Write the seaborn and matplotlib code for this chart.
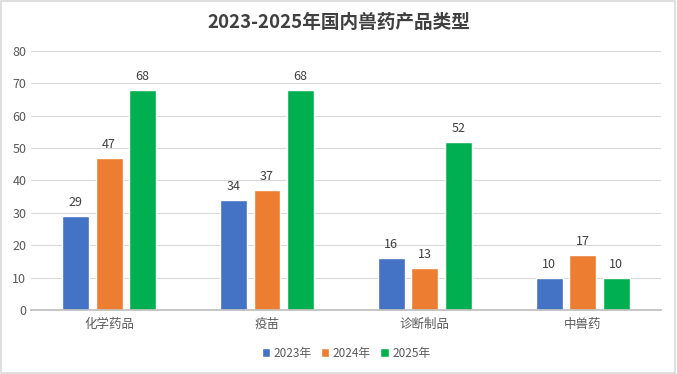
import pandas as pd
import matplotlib.pyplot as plt
import seaborn as sns
from matplotlib.patches import Rectangle

sns.set_theme(style="white")
plt.rcParams['font.family'] = ['Noto Sans CJK SC', 'DejaVu Sans']

categories = ["化学药品", "疫苗", "诊断制品", "中兽药"]
years = ["2023年", "2024年", "2025年"]
v2023 = [29, 34, 16, 10]
v2024 = [47, 37, 13, 17]
v2025 = [68, 68, 52, 10]
COLORS = ["#4472C4", "#ED7D31", "#00B050"]

df = pd.DataFrame({
    "cat": categories * 3,
    "year": [y for y in years for _ in categories],
    "val": v2023 + v2024 + v2025,
})

fig = plt.figure(figsize=(6.77, 3.74), dpi=100)
ax = fig.add_axes([0.046, 0.171, 0.93, 0.693])

sns.barplot(data=df, x="cat", y="val", hue="year", palette=COLORS, ax=ax,
            width=0.636, gap=0.2, saturation=1)

for cont in ax.containers:
    ax.bar_label(cont, padding=5, fontsize=9, color="#404040")

ax.set_ylim(0, 80)
ax.set_yticks(range(0, 81, 10))
ax.set_xlim(-0.494, 3.494)
ax.yaxis.grid(True, color="#D9D9D9", linewidth=0.8)
ax.set_axisbelow(True)
for s in ["top", "right", "left"]:
    ax.spines[s].set_visible(False)
ax.spines["bottom"].set_color("#BFBFBF")
ax.tick_params(axis="both", length=0, labelsize=9, colors="#595959")
ax.tick_params(axis="x", pad=6)
ax.set_xlabel("")
ax.set_ylabel("")

leg = ax.legend(loc="upper center", bbox_to_anchor=(0.5, -0.1), ncol=3,
                frameon=False, fontsize=8.5, handlelength=0.7, handleheight=0.7,
                handletextpad=0.3, columnspacing=0.8)
for t in leg.get_texts():
    t.set_color("#595959")

fig.suptitle("2023-2025年国内兽药产品类型", y=0.965, fontsize=13.4,
             fontweight="bold", color="#404040")

fig.patches.append(Rectangle((0.002, 0.003), 0.995, 0.994, transform=fig.transFigure,
                             fill=False, edgecolor="#D9D9D9", linewidth=1.2))

plt.savefig("out.png", dpi=100)
plt.close()
